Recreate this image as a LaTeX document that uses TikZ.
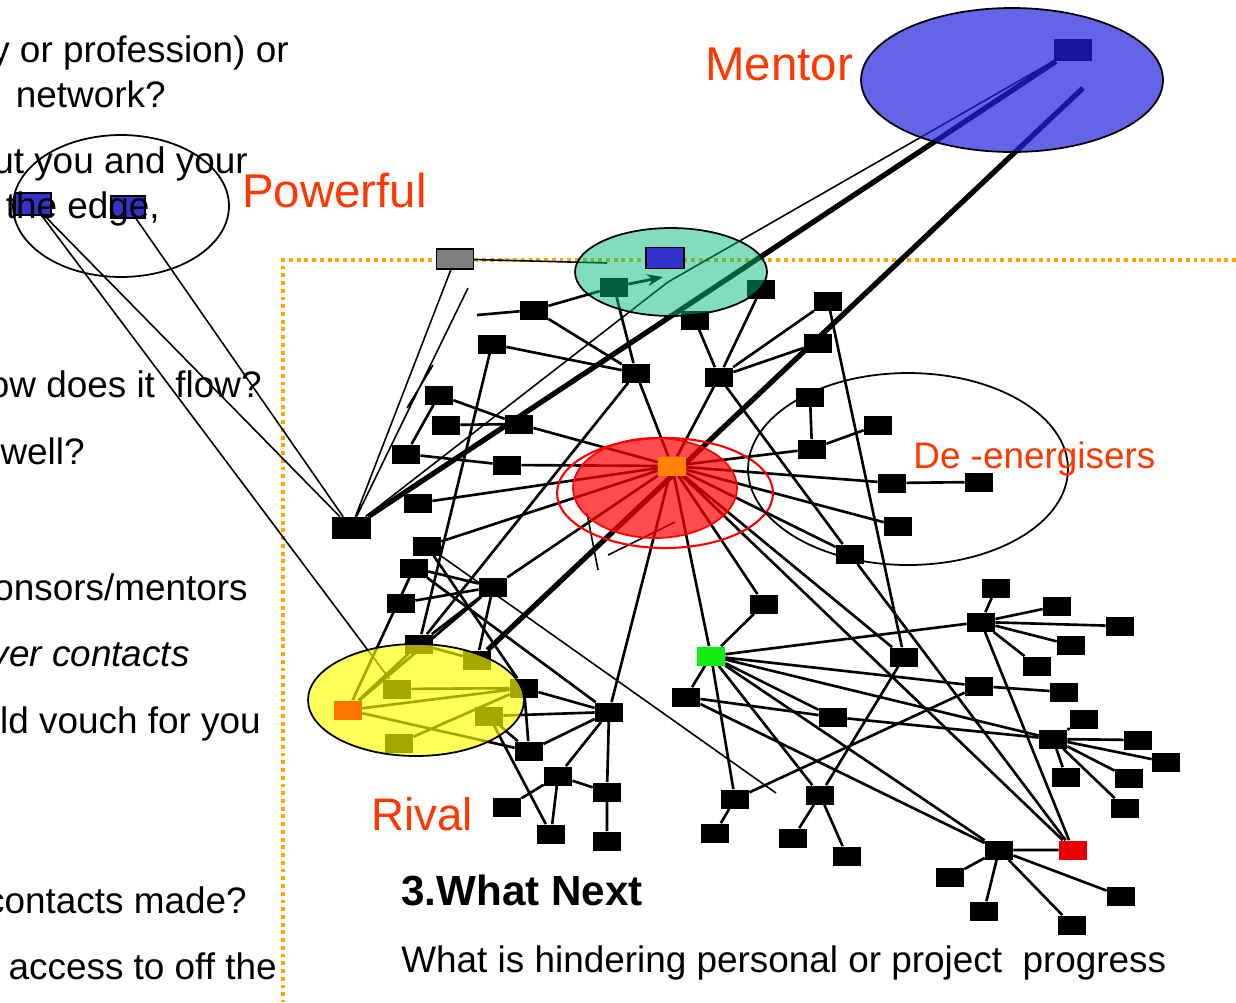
\documentclass[tikz,border=0pt]{standalone}
\usepackage{fontspec}
\setmainfont{Liberation Sans}
\usetikzlibrary{arrows.meta, backgrounds}

\definecolor{labelred}{RGB}{255, 55, 0}
\definecolor{framegold}{RGB}{255, 165, 0}
\definecolor{mentorblue}{RGB}{34, 34, 219}
\definecolor{tealfill}{RGB}{5, 185, 125}
\definecolor{hotred}{RGB}{255, 0, 0}
\definecolor{rivalyellow}{RGB}{255, 255, 0}
\definecolor{nodeblue}{RGB}{51, 51, 204}
\definecolor{huborange}{RGB}{255, 130, 0}
\definecolor{keygreen}{RGB}{20, 235, 20}
\definecolor{keyred}{RGB}{235, 0, 0}

\tikzset{
  box/.style={fill=black, minimum width=0.56cm, minimum height=0.38cm, inner sep=0pt},
  bigbox/.style={box, minimum width=0.78cm, minimum height=0.44cm},
  link/.style={line width=1.5pt},
  fine/.style={line width=0.9pt},
  heavy/.style={line width=3pt},
  para/.style={anchor=base east, inner sep=0pt, font=\fontsize{21}{25}\selectfont},
  tag/.style={anchor=base west, inner sep=0pt, text=labelred},
}

\begin{document}
\begin{tikzpicture}[x=0.02cm, y=-0.02cm]
  \useasboundingbox (0,0) rectangle (1236,1002);

  % Powerful pair on the edge
  \node[box, fill=nodeblue, draw=black, line width=0.6pt, minimum width=0.72cm, minimum height=0.44cm] (pA) at (33,204) {};
  \node[box, fill=nodeblue, draw=black, line width=0.6pt, minimum width=0.68cm, minimum height=0.44cm] (pB) at (128,207) {};

  % Top of the network
  \node[box, minimum width=0.76cm, minimum height=0.44cm] (mentor) at (1073,50) {};
  \node[box, fill=gray, draw=black, line width=0.8pt, minimum width=0.74cm, minimum height=0.4cm] (broker) at (455,259) {};
  \node[box] (tg) at (614,287) {};
  \node[box] (t1) at (761,289) {};
  \node[box] (t2) at (695,320) {};
  \node[box] (n1) at (534,310) {};
  \node[box] (n2) at (492,344) {};
  \node[box] (n3) at (636,373) {};
  \node[box] (n4) at (719,377) {};
  \node[box] (n5) at (828,301) {};
  \node[box] (n6) at (818,343) {};

  % Left cluster
  \node[box] (l1) at (439,395) {};
  \node[box] (l2) at (446,425) {};
  \node[box] (l3) at (519,424) {};
  \node[box] (l4) at (406,454) {};
  \node[box] (l5) at (507,465) {};
  \node[box] (l6) at (418,503) {};
  \node[box] (l7) at (427,546) {};
  \node[bigbox] (self) at (351,528) {};

  % De-energisers
  \node[box] (d1) at (810,397) {};
  \node[box] (d2) at (878,425) {};
  \node[box] (d3) at (812,449) {};
  \node[box] (d4) at (892,483) {};
  \node[box] (d5) at (979,482) {};
  \node[box] (d6) at (898,526) {};
  \node[box] (d7) at (850,554) {};

  % Rival side
  \node[box] (r1) at (414,568) {};
  \node[box] (r2) at (493,587) {};
  \node[box] (r3) at (401,603) {};
  \node[box] (r4) at (419,644) {};
  \node[box] (y1) at (477,660) {};
  \node[box] (y2) at (397,689) {};
  \node[box] (y3) at (489,716) {};
  \node[box] (y4) at (399,743) {};
  \node[box] (y5) at (524,688) {};
  \node[box] (s1) at (609,712) {};
  \node[box] (s2) at (529,751) {};
  \node[box] (s3) at (558,776) {};
  \node[box] (s4) at (607,792) {};
  \node[box] (s5) at (507,807) {};
  \node[box] (s6) at (551,834) {};
  \node[box] (s7) at (607,841) {};

  % Lower right
  \node[box] (m1) at (764,604) {};
  \node[box, fill=keygreen] (green) at (711,656) {};
  \node[box] (m2) at (686,697) {};
  \node[box] (m3) at (904,657) {};
  \node[box] (m4) at (833,717) {};
  \node[box] (m5) at (735,799) {};
  \node[box] (m6) at (715,833) {};
  \node[box] (m7) at (820,795) {};
  \node[box] (m8) at (793,838) {};
  \node[box] (m9) at (847,856) {};
  \node[box] (m10) at (979,686) {};
  \node[box] (m11) at (1064,692) {};
  \node[box] (h2) at (981,622) {};
  \node[box] (h2a) at (996,588) {};
  \node[box] (h2b) at (1057,606) {};
  \node[box] (h2c) at (1120,626) {};
  \node[box] (h2d) at (1071,645) {};
  \node[box] (h2e) at (1037,666) {};
  \node[box] (h3) at (1053,739) {};
  \node[box] (h3a) at (1084,719) {};
  \node[box] (h3b) at (1138,740) {};
  \node[box] (h3c) at (1166,762) {};
  \node[box] (h3d) at (1066,777) {};
  \node[box] (h3e) at (1129,778) {};
  \node[box] (h3f) at (1125,808) {};
  \node[box, fill=keyred] (red) at (1073,850) {};
  \node[box] (h4) at (999,850) {};
  \node[box] (h4a) at (950,877) {};
  \node[box] (h4b) at (984,911) {};
  \node[box] (h4c) at (1121,896) {};
  \node[box] (h4d) at (1072,925) {};

  % loose ends
  \coordinate (stub) at (477,315);
  \coordinate (tealend) at (607,263);
  \coordinate (tip) at (663,277);
  \coordinate (kink) at (668,282);
  \coordinate (rayend) at (1083,88);
  \coordinate (drift) at (776,793);
  \coordinate (echo) at (468,288);
  \coordinate (sa1) at (433,365);
  \coordinate (sa2) at (407,408);
  \coordinate (sb1) at (587,513);
  \coordinate (sb2) at (598,570);
  \coordinate (sc1) at (608,555);
  \coordinate (sc2) at (675,522);

  % Groups
  \draw[fill=mentorblue, fill opacity=0.7, line width=1pt] (1012,80) ellipse [x radius=3.02cm, y radius=1.44cm];
  \draw[line width=1pt] (121,206) ellipse [x radius=2.16cm, y radius=1.42cm];
  \draw[fill=tealfill, fill opacity=0.5, line width=1pt] (671,272) ellipse [x radius=1.92cm, y radius=0.88cm];
  \draw[hotred, fill=hotred, fill opacity=0.7, line width=1pt] (655,488) ellipse [x radius=1.64cm, y radius=1.0cm];
  \draw[hotred, line width=1.2pt] (665,493) ellipse [x radius=2.16cm, y radius=1.1cm];
  \draw[line width=1pt] (908,469) ellipse [x radius=3.2cm, y radius=1.92cm];
  \draw[fill=rivalyellow, fill opacity=0.65, line width=1pt] (416,700) ellipse [x radius=2.16cm, y radius=1.12cm];

  \node[box, fill=nodeblue, draw=black, line width=0.8pt, minimum width=0.76cm, minimum height=0.42cm] (tb) at (665,258) {};
  \node[box, fill=huborange] (hub) at (672,466) {};
  \node[box, fill=huborange!90!red] (rival) at (348,710) {};

  \begin{scope}[on background layer]
    % frame
    \draw[framegold, line width=2.2pt, dash pattern=on 2.2pt off 2.2pt] (1236,260) -- (283,260) -- (283,1002);

    % upper links
    \draw[link] (stub) -- (n1) -- (tg) (n1) -- (n3) (n2) -- (n3) (n2) -- (r4) (tg) -- (n3)
      (n3) -- (hub) (t2) -- (n4) (t1) -- (n4) (n4) -- (hub) (n4) -- (n5) (n4) -- (n6)
      (n4) -- (d7) (n3) -- (r4) (n5) -- (m3);
    \draw[-{Stealth[length=9pt]}, line width=1.6pt] (tg) -- (tip);

    % left cluster to the centre
    \draw[link] (l1) -- (l3) (l2) -- (l3) (l1) -- (l4) (l4) -- (l5) (l3) -- (hub) (l5) -- (hub)
      (l6) -- (hub) (l7) -- (hub) (l7) -- (y5) (r2) -- (hub);

    % spokes from the centre
    \draw[link] (hub) -- (d3) (hub) -- (d4) (hub) -- (d6) (hub) -- (d7) (hub) -- (m3) (hub) -- (m1)
      (hub) -- (green) (hub) -- (s1) (hub) -- (red);
    \draw[link] (d1) -- (d3) (d3) -- (d2) (d4) -- (d5) (d7) -- (red);

    % rival side
    \draw[link] (r1) -- (r2) (r1) -- (s1) (r1) -- (rival) (r3) -- (r2) (r2) -- (r4) (r2) -- (y1)
      (r2) -- (rival) (r4) -- (rival) (r4) -- (y1) (y2) -- (y5) (rival) -- (y5) (rival) -- (s2)
      (y4) -- (y5) (y3) -- (s6) (y3) -- (s2) (s1) -- (y5) (s1) -- (s2) (s1) -- (s3) (s1) -- (s4)
      (s1) -- (y3) (y5) -- (s2) (s3) -- (s5) (s3) -- (s4) (s3) -- (s6) (s4) -- (s7);

    % lower right
    \draw[link] (green) -- (m1) (green) -- (m2) (green) -- (h2) (green) -- (m10) (green) -- (h3)
      (green) -- (m4) (green) -- (m5) (green) -- (m7) (green) -- (h4);
    \draw[link] (m2) -- (m4) (m2) -- (h4) (m5) -- (m6) (m5) -- (m10) (m7) -- (m8) (m7) -- (m9)
      (m7) -- (m3) (m4) -- (h3) (m10) -- (m11) (h2) -- (red) (h4) -- (red);
    \draw[link] (h2) -- (h2a) (h2) -- (h2b) (h2) -- (h2c) (h2) -- (h2d) (h2) -- (h2e);
    \draw[link] (h3) -- (h3a) (h3) -- (h3b) (h3) -- (h3c) (h3) -- (h3d) (h3) -- (h3e) (h3) -- (h3f);
    \draw[link] (h4) -- (h4a) (h4) -- (h4b) (h4) -- (h4c) (h4) -- (h4d);

    % reach out
    \draw[fine] (pA) -- (y2) (pA) -- (self) (pB) -- (self) (broker) -- (self) (echo) -- (self)
      (broker) -- (tealend) (l7) -- (drift) (self) -- (kink) -- (mentor)
      (sa1) -- (sa2) (sb1) -- (sb2) (sc1) -- (sc2);
    \draw[heavy] (self) -- (mentor);
    \draw[heavy] (y1) -- (rayend);
  \end{scope}

  % Labels
  \node[tag, font=\fontsize{27}{32}\selectfont] (mentorlabel) at (705,80) {Mentor};
  \node[tag, font=\fontsize{27}{32}\selectfont] (powerlabel) at (242,207) {Powerful};
  \node[tag, font=\fontsize{21}{25}\selectfont] (drainlabel) at (913,468) {De -energisers};
  \node[tag, font=\fontsize{26}{31}\selectfont] (rivallabel) at (371,830) {Rival};

  % Questions
  \node[para] (q1) at (289,62) {y or profession) or};
  \node[para] (q2) at (166,107) {network?};
  \node[para] (q3) at (248,173) {ut you and your};
  \node[para] (q4) at (160,218) {the edge,};
  \node[para] (q5) at (262,397) {ow does it~ flow?};
  \node[para] (q6) at (85,464) {well?};
  \node[para] (q7) at (248,600) {onsors/mentors};
  \node[para] (q8) at (190,666) {\itshape ver contacts};
  \node[para] (q9) at (261,733) {ld vouch for you};
  \node[para] (q10) at (247,913) {contacts made?};
  \node[para] (q11) at (277,979) {access to off the};

  \node[anchor=base west, inner sep=0pt, font=\fontsize{24}{29}\selectfont\bfseries] (next) at (401,905) {3.What Next};
  \node[anchor=base west, inner sep=0pt, font=\fontsize{21}{25}\selectfont] (hinder) at (401,972) {What is hindering personal or project~ progress};
\end{tikzpicture}
\end{document}
